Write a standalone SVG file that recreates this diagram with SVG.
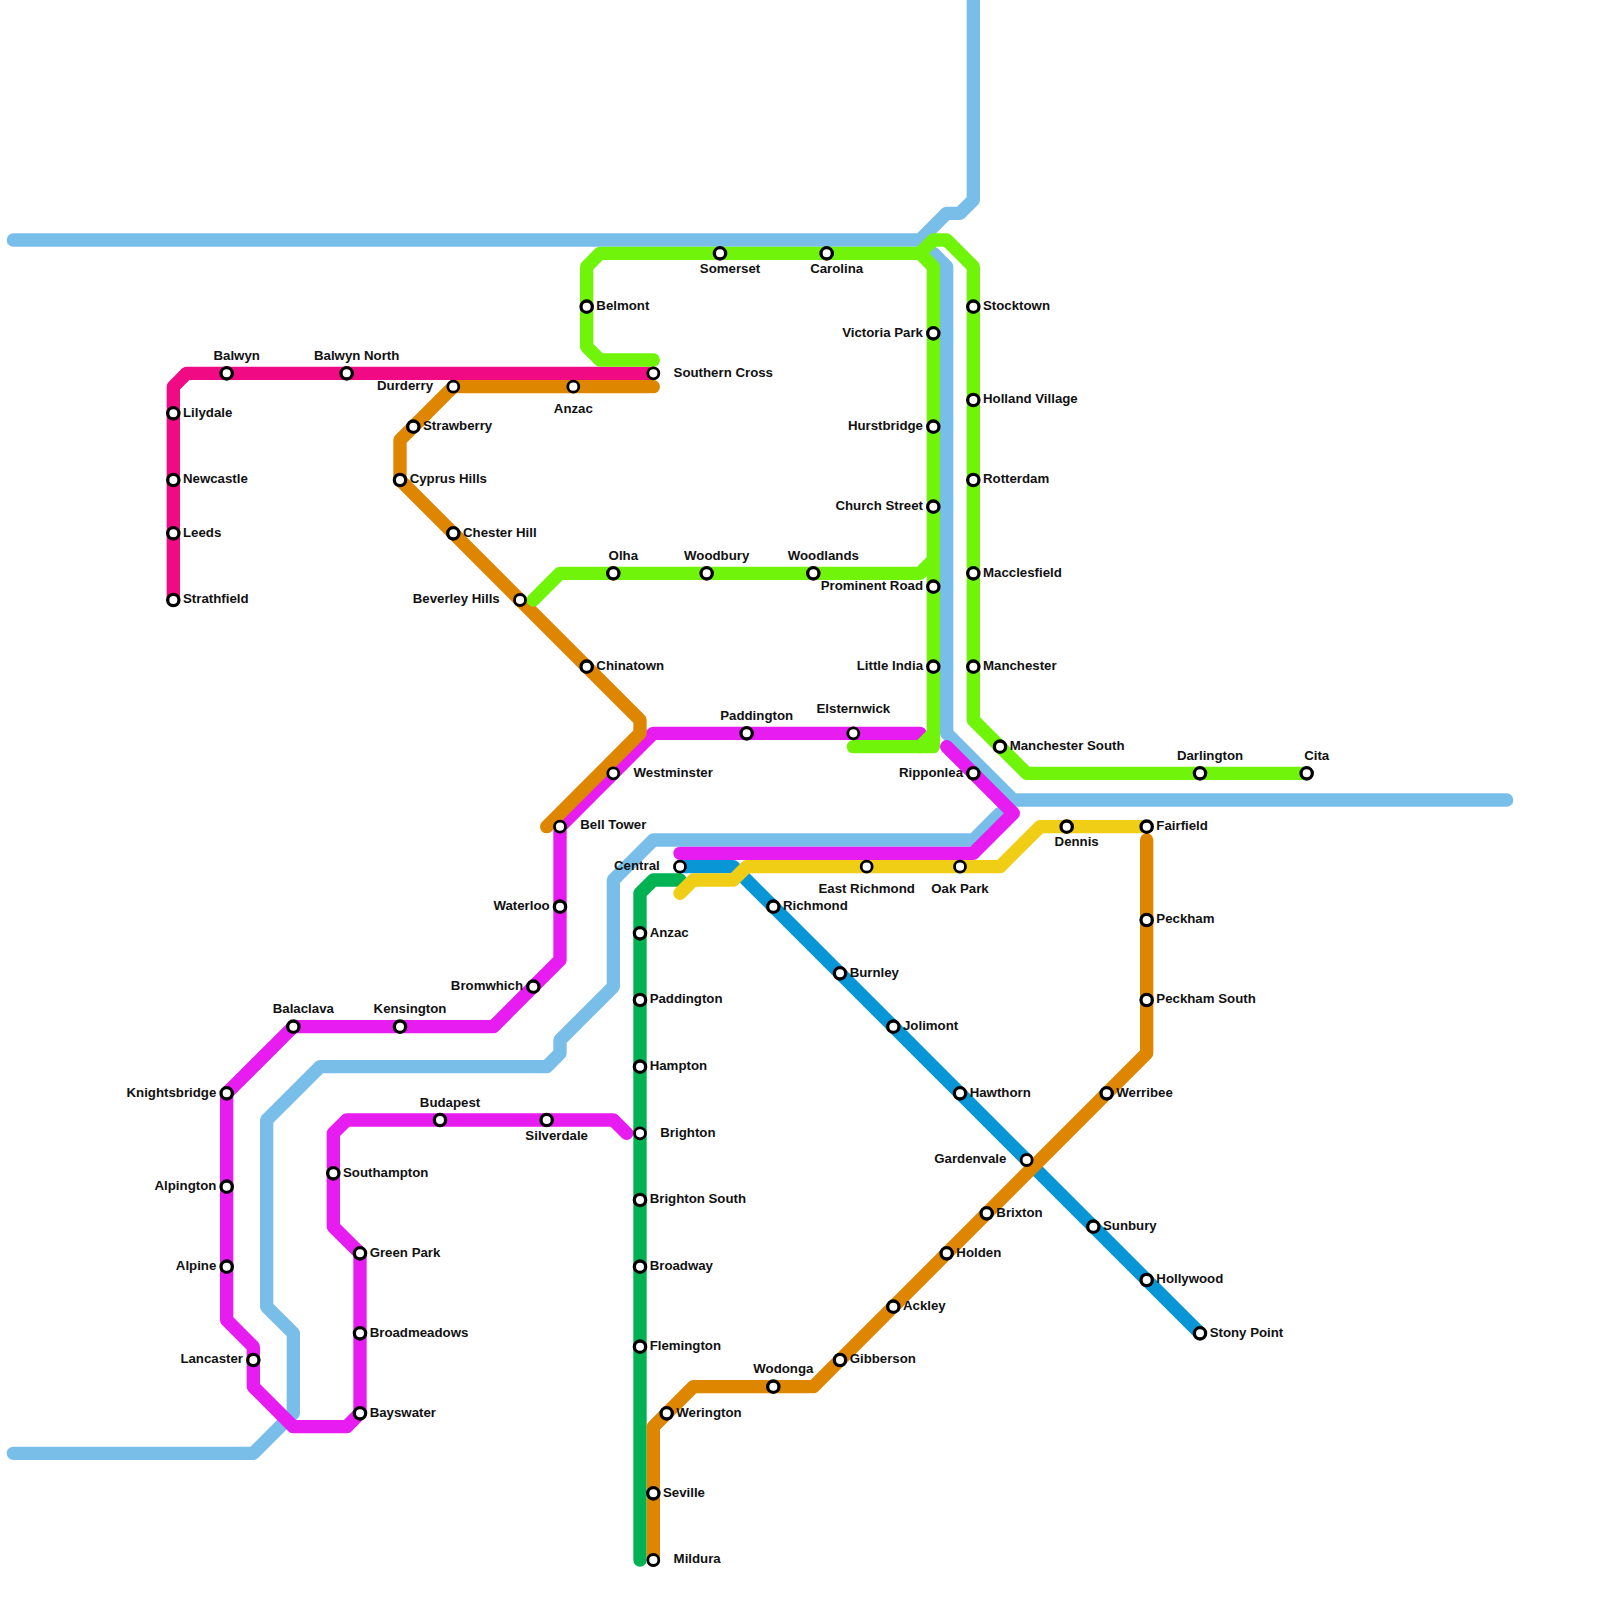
<svg xmlns="http://www.w3.org/2000/svg" width="1600" height="1600" viewBox="0 0 1600 1600">
<style>
text{font-family:"Liberation Sans",Arial,sans-serif;font-weight:700;font-size:13.25px;fill:#111}
.l{fill:none;stroke-width:13.33;stroke-linecap:round;stroke-linejoin:round}
.s{fill:#fff;stroke:#000;stroke-width:3.3}
.t{fill:#fff;stroke:#000;stroke-width:2.8}
.e{text-anchor:end}
.m{text-anchor:middle}
</style>
<rect width="1600" height="1600" fill="#fff"/>
<g id="connectors">
<polyline class="l" stroke="#79bde9" points="13.33,240 920,240 946.67,213.33 960,213.33 973.33,200 973.33,0"/>
<polyline class="l" stroke="#79bde9" points="933.33,253.33 946.67,266.67 946.67,733.33 1013.33,800 1506.67,800"/>
<polyline class="l" stroke="#79bde9" points="1000,813.33 973.33,840 653.33,840 613.33,880 613.33,986.67 560,1040 560,1053.33 546.67,1066.67 320,1066.67 266.67,1120 266.67,1306.67 293.33,1333.33 293.33,1413.33 253.33,1453.33 13.33,1453.33"/>
<polyline class="l" stroke="#0896d7" points="680,866.67 733.33,866.67 1200,1333.33"/>
<polyline class="l" stroke="#00b251" points="680,880 653.33,880 640,893.33 640,1560"/>
<polyline class="l" stroke="#f0ce15" points="680,893.33 693.33,880 733.33,880 746.67,866.67 1000,866.67 1040,826.67 1146.67,826.67"/>
<polyline class="l" stroke="#e61cf0" points="920,733.33 653.33,733.33 560,826.67 560,960 493.33,1026.67 293.33,1026.67 226.67,1093.33 226.67,1320 253.33,1346.67 253.33,1386.67 293.33,1426.67 346.67,1426.67 360,1413.33 360,1253.33 333.33,1226.67 333.33,1133.33 346.67,1120 613.33,1120 626.67,1133.33"/>
<polyline class="l" stroke="#e61cf0" points="946.67,746.67 1013.33,813.33 973.33,853.33 680,853.33"/>
<polyline class="l" stroke="#f00b84" points="173.33,600 173.33,386.67 186.67,373.33 653.33,373.33"/>
<polyline class="l" stroke="#de8600" points="653.33,386.67 453.33,386.67 400,440 400,480 640,720 640,733.33 546.67,826.67"/>
<polyline class="l" stroke="#de8600" points="1146.67,840 1146.67,1053.33 813.33,1386.67 693.33,1386.67 653.33,1426.67 653.33,1560"/>
<polyline class="l" stroke="#70f50a" points="653.33,360 600,360 586.67,346.67 586.67,266.67 600,253.33 920,253.33 933.33,240 946.67,240 973.33,266.67 973.33,720 1026.67,773.33 1306.67,773.33"/>
<polyline class="l" stroke="#70f50a" points="920,253.33 933.33,266.67 933.33,746.67 853.33,746.67"/>
<polyline class="l" stroke="#70f50a" points="933.33,733.33 920,746.67"/>
<polyline class="l" stroke="#70f50a" points="533.33,600 560,573.33 920,573.33 933.33,560"/>
</g>
<g id="lilydale"><circle class="s" cx="173.33" cy="413.33" r="5.65"/><text x="183" y="416.63">Lilydale</text></g>
<g id="newcastle"><circle class="s" cx="173.33" cy="480" r="5.65"/><text x="183" y="483.3">Newcastle</text></g>
<g id="leeds"><circle class="s" cx="173.33" cy="533.33" r="5.65"/><text x="183" y="536.63">Leeds</text></g>
<g id="strathfield"><circle class="s" cx="173.33" cy="600" r="5.65"/><text x="183" y="603.3">Strathfield</text></g>
<g id="balwyn"><circle class="s" cx="226.67" cy="373.33" r="5.65"/><text class="m" x="236.67" y="360">Balwyn</text></g>
<g id="balwyn-north"><circle class="s" cx="346.67" cy="373.33" r="5.65"/><text class="m" x="356.67" y="360">Balwyn North</text></g>
<g id="southern-cross"><circle class="t" cx="653.33" cy="373.33" r="5.5"/><text x="673.6" y="376.63">Southern Cross</text></g>
<g id="durderry"><circle class="t" cx="453.33" cy="386.67" r="5.5"/><text class="e" x="433" y="389.97">Durderry</text></g>
<g id="anzac-north"><circle class="t" cx="573.33" cy="386.67" r="5.5"/><text class="m" x="573.33" y="413.33">Anzac</text></g>
<g id="strawberry"><circle class="s" cx="413.33" cy="426.67" r="5.65"/><text x="423" y="429.97">Strawberry</text></g>
<g id="cyprus-hills"><circle class="s" cx="400" cy="480" r="5.65"/><text x="409.67" y="483.3">Cyprus Hills</text></g>
<g id="chester-hill"><circle class="s" cx="453.33" cy="533.33" r="5.65"/><text x="463" y="536.63">Chester Hill</text></g>
<g id="beverley-hills"><circle class="t" cx="520" cy="600" r="5.5"/><text class="e" x="499.7" y="603.3">Beverley Hills</text></g>
<g id="chinatown"><circle class="s" cx="586.67" cy="666.67" r="5.65"/><text x="596.33" y="669.97">Chinatown</text></g>
<g id="westminster"><circle class="t" cx="613.33" cy="773.33" r="5.5"/><text x="633.6" y="776.63">Westminster</text></g>
<g id="bell-tower"><circle class="t" cx="560" cy="826.67" r="5.5"/><text x="580.3" y="829.3">Bell Tower</text></g>
<g id="somerset"><circle class="s" cx="720" cy="253.33" r="5.65"/><text class="m" x="730" y="273.33">Somerset</text></g>
<g id="carolina"><circle class="s" cx="826.67" cy="253.33" r="5.65"/><text class="m" x="836.67" y="273.33">Carolina</text></g>
<g id="belmont"><circle class="s" cx="586.67" cy="306.67" r="5.65"/><text x="596.33" y="309.97">Belmont</text></g>
<g id="victoria-park"><circle class="s" cx="933.33" cy="333.33" r="5.65"/><text class="e" x="923" y="336.63">Victoria Park</text></g>
<g id="hurstbridge"><circle class="s" cx="933.33" cy="426.67" r="5.65"/><text class="e" x="923" y="429.97">Hurstbridge</text></g>
<g id="church-street"><circle class="s" cx="933.33" cy="506.67" r="5.65"/><text class="e" x="923" y="509.97">Church Street</text></g>
<g id="prominent-road"><circle class="s" cx="933.33" cy="586.67" r="5.65"/><text class="e" x="923" y="589.97">Prominent Road</text></g>
<g id="little-india"><circle class="s" cx="933.33" cy="666.67" r="5.65"/><text class="e" x="923" y="669.97">Little India</text></g>
<g id="olha"><circle class="s" cx="613.33" cy="573.33" r="5.65"/><text class="m" x="623.33" y="560">Olha</text></g>
<g id="woodbury"><circle class="s" cx="706.67" cy="573.33" r="5.65"/><text class="m" x="716.67" y="560">Woodbury</text></g>
<g id="woodlands"><circle class="s" cx="813.33" cy="573.33" r="5.65"/><text class="m" x="823.33" y="560">Woodlands</text></g>
<g id="stocktown"><circle class="s" cx="973.33" cy="306.67" r="5.65"/><text x="983" y="309.97">Stocktown</text></g>
<g id="holland-village"><circle class="s" cx="973.33" cy="400" r="5.65"/><text x="983" y="403.3">Holland Village</text></g>
<g id="rotterdam"><circle class="s" cx="973.33" cy="480" r="5.65"/><text x="983" y="483.3">Rotterdam</text></g>
<g id="macclesfield"><circle class="s" cx="973.33" cy="573.33" r="5.65"/><text x="983" y="576.63">Macclesfield</text></g>
<g id="manchester"><circle class="s" cx="973.33" cy="666.67" r="5.65"/><text x="983" y="669.97">Manchester</text></g>
<g id="manchester-south"><circle class="s" cx="1000" cy="746.67" r="5.65"/><text x="1009.67" y="749.97">Manchester South</text></g>
<g id="darlington"><circle class="s" cx="1200" cy="773.33" r="5.65"/><text class="m" x="1210" y="760">Darlington</text></g>
<g id="cita"><circle class="s" cx="1306.67" cy="773.33" r="5.65"/><text class="m" x="1316.67" y="760">Cita</text></g>
<g id="paddington-north"><circle class="s" cx="746.67" cy="733.33" r="5.65"/><text class="m" x="756.67" y="720">Paddington</text></g>
<g id="elsternwick"><circle class="t" cx="853.33" cy="733.33" r="5.5"/><text class="m" x="853.33" y="713.33">Elsternwick</text></g>
<g id="ripponlea"><circle class="s" cx="973.33" cy="773.33" r="5.65"/><text class="e" x="963" y="776.63">Ripponlea</text></g>
<g id="waterloo"><circle class="s" cx="560" cy="906.67" r="5.65"/><text class="e" x="549.67" y="909.97">Waterloo</text></g>
<g id="bromwhich"><circle class="s" cx="533.33" cy="986.67" r="5.65"/><text class="e" x="523" y="989.97">Bromwhich</text></g>
<g id="balaclava"><circle class="s" cx="293.33" cy="1026.67" r="5.65"/><text class="m" x="303.33" y="1013.33">Balaclava</text></g>
<g id="kensington"><circle class="s" cx="400" cy="1026.67" r="5.65"/><text class="m" x="410" y="1013.33">Kensington</text></g>
<g id="knightsbridge"><circle class="s" cx="226.67" cy="1093.33" r="5.65"/><text class="e" x="216.33" y="1096.63">Knightsbridge</text></g>
<g id="alpington"><circle class="s" cx="226.67" cy="1186.67" r="5.65"/><text class="e" x="216.33" y="1189.97">Alpington</text></g>
<g id="alpine"><circle class="s" cx="226.67" cy="1266.67" r="5.65"/><text class="e" x="216.33" y="1269.97">Alpine</text></g>
<g id="lancaster"><circle class="s" cx="253.33" cy="1360" r="5.65"/><text class="e" x="243" y="1363.3">Lancaster</text></g>
<g id="bayswater"><circle class="s" cx="360" cy="1413.33" r="5.65"/><text x="369.67" y="1416.63">Bayswater</text></g>
<g id="broadmeadows"><circle class="s" cx="360" cy="1333.33" r="5.65"/><text x="369.67" y="1336.63">Broadmeadows</text></g>
<g id="green-park"><circle class="s" cx="360" cy="1253.33" r="5.65"/><text x="369.67" y="1256.63">Green Park</text></g>
<g id="southampton"><circle class="s" cx="333.33" cy="1173.33" r="5.65"/><text x="343" y="1176.63">Southampton</text></g>
<g id="budapest"><circle class="s" cx="440" cy="1120" r="5.65"/><text class="m" x="450" y="1106.67">Budapest</text></g>
<g id="silverdale"><circle class="s" cx="546.67" cy="1120" r="5.65"/><text class="m" x="556.67" y="1140">Silverdale</text></g>
<g id="central"><circle class="t" cx="680" cy="866.67" r="5.5"/><text class="e" x="659.7" y="869.97">Central</text></g>
<g id="richmond"><circle class="s" cx="773.33" cy="906.67" r="5.65"/><text x="783" y="909.97">Richmond</text></g>
<g id="burnley"><circle class="s" cx="840" cy="973.33" r="5.65"/><text x="849.67" y="976.63">Burnley</text></g>
<g id="jolimont"><circle class="s" cx="893.33" cy="1026.67" r="5.65"/><text x="903" y="1029.97">Jolimont</text></g>
<g id="hawthorn"><circle class="s" cx="960" cy="1093.33" r="5.65"/><text x="969.67" y="1096.63">Hawthorn</text></g>
<g id="gardenvale"><circle class="t" cx="1026.67" cy="1160" r="5.5"/><text class="e" x="1006.4" y="1163.3">Gardenvale</text></g>
<g id="sunbury"><circle class="s" cx="1093.33" cy="1226.67" r="5.65"/><text x="1103" y="1229.97">Sunbury</text></g>
<g id="hollywood"><circle class="s" cx="1146.67" cy="1280" r="5.65"/><text x="1156.33" y="1283.3">Hollywood</text></g>
<g id="stony-point"><circle class="s" cx="1200" cy="1333.33" r="5.65"/><text x="1209.67" y="1336.63">Stony Point</text></g>
<g id="east-richmond"><circle class="t" cx="866.67" cy="866.67" r="5.5"/><text class="m" x="866.67" y="893.33">East Richmond</text></g>
<g id="oak-park"><circle class="t" cx="960" cy="866.67" r="5.5"/><text class="m" x="960" y="893.33">Oak Park</text></g>
<g id="dennis"><circle class="s" cx="1066.67" cy="826.67" r="5.65"/><text class="m" x="1076.67" y="846">Dennis</text></g>
<g id="fairfield"><circle class="s" cx="1146.67" cy="826.67" r="5.65"/><text x="1156.33" y="829.97">Fairfield</text></g>
<g id="peckham"><circle class="s" cx="1146.67" cy="920" r="5.65"/><text x="1156.33" y="923.3">Peckham</text></g>
<g id="peckham-south"><circle class="s" cx="1146.67" cy="1000" r="5.65"/><text x="1156.33" y="1003.3">Peckham South</text></g>
<g id="werribee"><circle class="s" cx="1106.67" cy="1093.33" r="5.65"/><text x="1116.33" y="1096.63">Werribee</text></g>
<g id="brixton"><circle class="s" cx="986.67" cy="1213.33" r="5.65"/><text x="996.33" y="1216.63">Brixton</text></g>
<g id="holden"><circle class="s" cx="946.67" cy="1253.33" r="5.65"/><text x="956.33" y="1256.63">Holden</text></g>
<g id="ackley"><circle class="s" cx="893.33" cy="1306.67" r="5.65"/><text x="903" y="1309.97">Ackley</text></g>
<g id="gibberson"><circle class="s" cx="840" cy="1360" r="5.65"/><text x="849.67" y="1363.3">Gibberson</text></g>
<g id="wodonga"><circle class="s" cx="773.33" cy="1386.67" r="5.65"/><text class="m" x="783.33" y="1373.33">Wodonga</text></g>
<g id="werington"><circle class="s" cx="666.67" cy="1413.33" r="5.65"/><text x="676.33" y="1416.63">Werington</text></g>
<g id="seville"><circle class="s" cx="653.33" cy="1493.33" r="5.65"/><text x="663" y="1496.63">Seville</text></g>
<g id="mildura"><circle class="t" cx="653.33" cy="1560" r="5.5"/><text x="673.6" y="1563.3">Mildura</text></g>
<g id="anzac"><circle class="s" cx="640" cy="933.33" r="5.65"/><text x="649.67" y="936.63">Anzac</text></g>
<g id="paddington"><circle class="s" cx="640" cy="1000" r="5.65"/><text x="649.67" y="1003.3">Paddington</text></g>
<g id="hampton"><circle class="s" cx="640" cy="1066.67" r="5.65"/><text x="649.67" y="1069.97">Hampton</text></g>
<g id="brighton"><circle class="t" cx="640" cy="1133.33" r="5.5"/><text x="660.3" y="1136.63">Brighton</text></g>
<g id="brighton-south"><circle class="s" cx="640" cy="1200" r="5.65"/><text x="649.67" y="1203.3">Brighton South</text></g>
<g id="broadway"><circle class="s" cx="640" cy="1266.67" r="5.65"/><text x="649.67" y="1269.97">Broadway</text></g>
<g id="flemington"><circle class="s" cx="640" cy="1346.67" r="5.65"/><text x="649.67" y="1349.97">Flemington</text></g>
</svg>
